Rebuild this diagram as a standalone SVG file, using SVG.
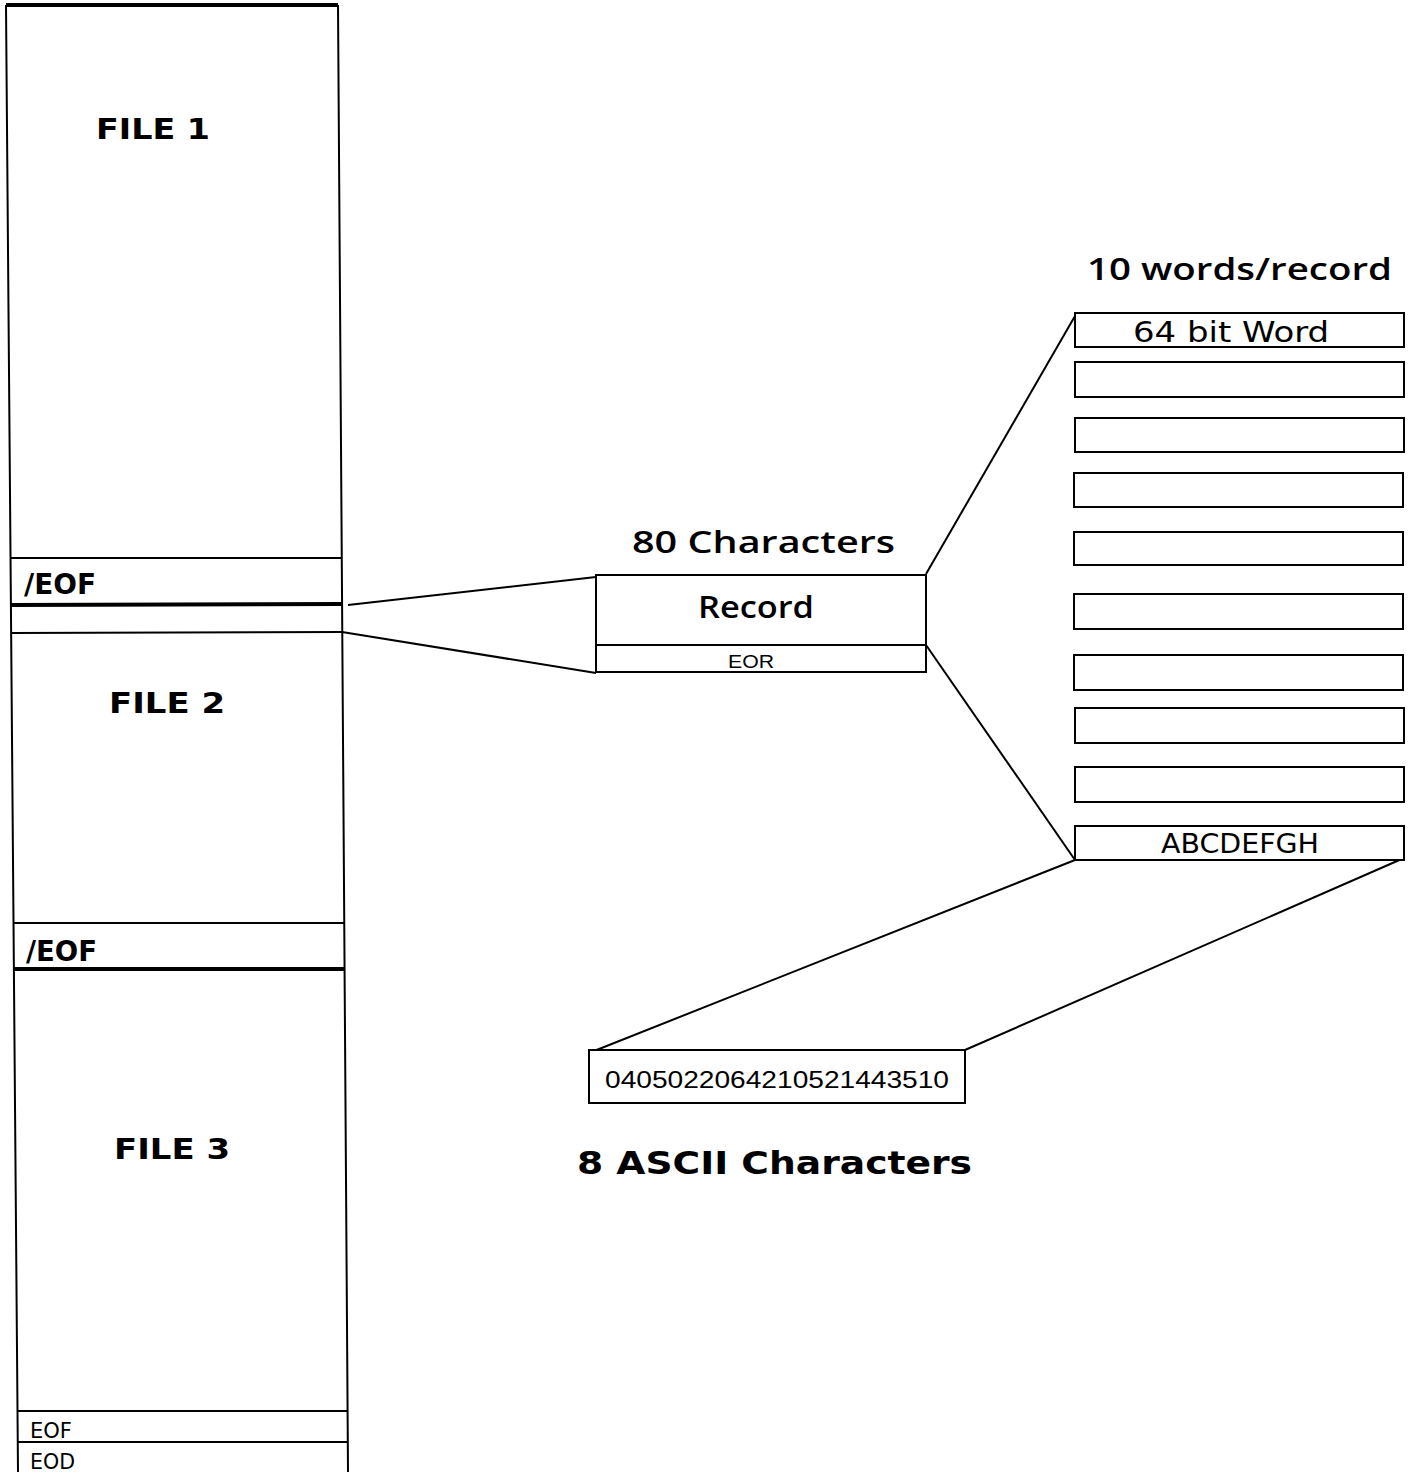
<svg xmlns="http://www.w3.org/2000/svg" width="1411" height="1473" viewBox="0 0 1411 1473">
<style>
.ln{stroke:#000;stroke-width:2;fill:none}
.thk{stroke:#000;stroke-width:4;fill:none}
.box{stroke:#000;stroke-width:2;fill:#fff}
.b{font-family:"DejaVu Sans","Liberation Sans",sans-serif;font-weight:bold;fill:#000}
.s{font-family:"Open Sans","DejaVu Sans",sans-serif;font-weight:600;fill:#000}
.c{font-family:"DejaVu Sans Condensed","DejaVu Sans",sans-serif;fill:#000}
.n{font-family:"Liberation Sans",Arial,sans-serif;fill:#000}
</style>
<rect width="1411" height="1473" fill="#fff"/>
<g id="file-column">
<path class="thk" d="M6,5 L338,5" stroke-width="3"/>
<path class="ln" d="M6,5 L18,1472 M338,5 L348,1472"/>
<path class="ln" d="M10,558 L342,558"/>
<path class="thk" d="M10,605 L342,604"/>
<path class="ln" d="M11,633 L343,632"/>
<path class="ln" d="M13,923 L344,923"/>
<path class="thk" d="M14,969 L345,969"/>
<path class="ln" d="M18,1411 L348,1411"/>
<path class="ln" d="M18,1442 L348,1442"/>
</g>
<g id="file1"><text class="b" x="96" y="139" font-size="29" textLength="114" lengthAdjust="spacingAndGlyphs">FILE 1</text></g>
<g id="eof1"><text class="c" font-weight="bold" x="24" y="594" font-size="28" textLength="72" lengthAdjust="spacingAndGlyphs">/EOF</text></g>
<g id="file2"><text class="b" x="109" y="713" font-size="29" textLength="116" lengthAdjust="spacingAndGlyphs">FILE 2</text></g>
<g id="eof2"><text class="c" font-weight="bold" x="26" y="961" font-size="28" textLength="71" lengthAdjust="spacingAndGlyphs">/EOF</text></g>
<g id="file3"><text class="b" x="114" y="1159" font-size="29" textLength="116" lengthAdjust="spacingAndGlyphs">FILE 3</text></g>
<g id="eof3"><text class="c" x="30" y="1438" font-size="21" textLength="42" lengthAdjust="spacingAndGlyphs">EOF</text></g>
<g id="eod"><text class="c" x="30" y="1469" font-size="21" textLength="45" lengthAdjust="spacingAndGlyphs">EOD</text></g>
<g id="connectors">
<path class="ln" d="M348,605 L596,577"/>
<path class="ln" d="M342,632 L596,673"/>
<path class="ln" d="M926,574 L1075,316"/>
<path class="ln" d="M926,645 L1075,860"/>
<path class="ln" d="M1075,860 L589,1053"/>
<path class="ln" d="M1404,858 L965,1050"/>
</g>
<g id="record">
<text class="s" x="632" y="553" font-size="30" textLength="263" lengthAdjust="spacingAndGlyphs">80 Characters</text>
<rect class="box" x="596" y="575" width="330" height="97" stroke-width="2.5"/>
<path class="ln" d="M596,645 L926,645"/>
<text class="s" x="756" y="618" font-size="30" text-anchor="middle" textLength="116" lengthAdjust="spacingAndGlyphs">Record</text>
<text class="n" x="751" y="668" font-size="19" text-anchor="middle" textLength="46" lengthAdjust="spacingAndGlyphs">EOR</text>
</g>
<g id="words">
<text class="s" x="1087" y="280" font-size="30" textLength="305" lengthAdjust="spacingAndGlyphs">10 words/record</text>
<rect class="box" x="1075" y="313" width="329" height="34"/>
<text class="c" x="1231" y="342" font-size="29" text-anchor="middle" textLength="196" lengthAdjust="spacingAndGlyphs">64 bit Word</text>
<rect class="box" x="1075" y="362" width="329" height="35"/>
<rect class="box" x="1075" y="418" width="329" height="34"/>
<rect class="box" x="1074" y="473" width="329" height="34"/>
<rect class="box" x="1074" y="532" width="329" height="33"/>
<rect class="box" x="1074" y="594" width="329" height="35"/>
<rect class="box" x="1074" y="655" width="329" height="35"/>
<rect class="box" x="1075" y="708" width="329" height="35"/>
<rect class="box" x="1075" y="767" width="329" height="35"/>
<rect class="box" x="1075" y="826" width="329" height="34"/>
<text class="c" x="1240" y="853" font-size="27" text-anchor="middle" textLength="158" lengthAdjust="spacingAndGlyphs">ABCDEFGH</text>
</g>
<g id="ascii">
<rect class="box" x="589" y="1050" width="376" height="53"/>
<text class="n" x="777" y="1088" font-size="23" text-anchor="middle" textLength="344" lengthAdjust="spacingAndGlyphs">0405022064210521443510</text>
<text class="b" x="577" y="1174" font-size="32" textLength="395" lengthAdjust="spacingAndGlyphs">8 ASCII Characters</text>
</g>
</svg>
